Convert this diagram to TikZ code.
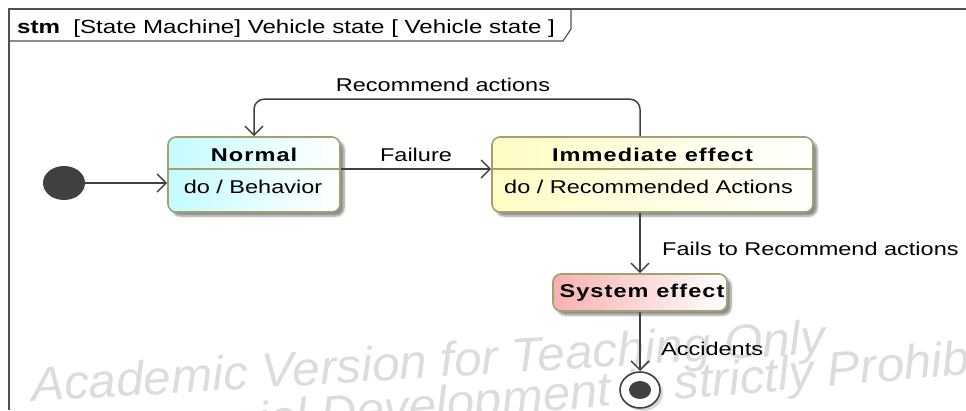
\documentclass[tikz,border=0pt]{standalone}
\usepackage{fontspec}
\setmainfont{Liberation Sans}[FakeStretch=1.27]
\newfontfamily\namefont{Liberation Sans}[FakeStretch=1.27, LetterSpace=6]
\newfontfamily\wmfont{Liberation Sans}[FakeStretch=1.03]
\usetikzlibrary{arrows.meta,shadows.blur,calc}

\definecolor{framegray}{HTML}{505050}
\definecolor{linegray}{HTML}{404040}
\definecolor{stateborder}{HTML}{A0A070}
\definecolor{normalfill}{HTML}{C4FCFF}
\definecolor{immfill}{HTML}{FFFCC4}
\definecolor{sysfill}{HTML}{F7B0B0}
\definecolor{wmgray}{HTML}{DCDCDC}
\definecolor{dotfill}{HTML}{404040}

\tikzset{
  txt/.style={font=\fontsize{18.5}{22}\selectfont, inner sep=0pt, text=black},
  bold/.style={txt, font=\namefont\fontsize{18.5}{22}\selectfont\bfseries},
  statebox/.style={draw=stateborder, line width=1.6pt, rounded corners=8pt,
    blur shadow={shadow xshift=4pt, shadow yshift=-4pt, shadow blur steps=6, shadow opacity=45}},
  divider/.style={draw=stateborder, line width=1.2pt},
  trans/.style={draw=linegray, line width=1.5pt,
    -{Straight Barb[length=9pt, width=18pt, line width=1.5pt]}},
  wm/.style={font=\wmfont\itshape\fontsize{48}{48}\selectfont, text=wmgray,
    inner sep=0pt},
}

\begin{document}
\begin{tikzpicture}[x=1pt, y=-1pt]
\useasboundingbox (0,0) rectangle (966,410);

% watermark lines, clipped at the page edge
\begin{scope}
  \clip (0,0) rectangle (966,410);
  \node[wm, anchor=base west, rotate=3.5] (wm1) at (32,402) {Academic Version for Teaching Only};
  \node[wm, anchor=base west, rotate=5] (wm2) at (46,455) {Commercial Development is strictly Prohibited};
\end{scope}

% diagram frame with its name tab
\draw[framegray, line width=1.8pt] (9,410) -- (9,9) -- (966,9);
\draw[framegray, line width=1.2pt] (9,41) -- (563,41) -- (571,29) -- (571,9);
\node[txt, anchor=base west, font=\fontsize{19}{22}\selectfont] (title) at (17,33)
  {\textbf{stm}\hspace{0.7em}[State Machine] Vehicle state [ Vehicle state ]};

% states
\node[statebox, left color=normalfill, right color=white,
  minimum width=172pt, minimum height=75pt] (normal) at (254,174.5) {};
\node[bold] (normalname) at (254,155) {Normal};
\node[txt] (normaldo) at (253,187) {do / Behavior};
\draw[divider] (normal.west |- 0,169) -- (normal.east |- 0,169);

\node[statebox, left color=immfill, right color=white,
  minimum width=321pt, minimum height=75pt] (imm) at (652.5,174.5) {};
\node[bold] (immname) at (652.5,155) {Immediate effect};
\node[txt] (immdo) at (648.5,187) {do / Recommended Actions};
\draw[divider] (imm.west |- 0,169) -- (imm.east |- 0,169);

\node[statebox, left color=sysfill, right color=white,
  minimum width=174pt, minimum height=37pt] (sys) at (640,292.5) {};
\node[bold] (sysname) at (642,292.5) {System effect};

% pseudo states
\fill[dotfill] (64,183) ellipse [x radius=21pt, y radius=17pt];
\coordinate (init) at (64,183);
\coordinate (initedge) at (85,183);

\fill[gray!45, opacity=0.7] (643,393) ellipse [x radius=20pt, y radius=18pt];
\draw[linegray, fill=white, line width=1.6pt] (640,390) ellipse [x radius=20pt, y radius=18pt];
\fill[dotfill] (640,390) ellipse [x radius=11pt, y radius=9pt];
\coordinate (final) at (640,390);
\coordinate (finaltop) at (640,371);

% transitions
\draw[trans] (initedge) -- (normal.west |- init);
\draw[trans] (normal.east |- 0,169) -- (imm.west |- 0,169)
  node[txt, midway, above=7pt] (failure) {Failure};
\draw[trans, rounded corners=10pt] (imm.north -| sys.north) -- ++(0,-37) -| (normal.north);
\node[txt] (recommend) at (443,85) {Recommend actions};
\draw[trans] (imm.south -| sys.north) -- (sys.north);
\node[txt, anchor=west] (fails) at (662,249) {Fails to Recommend actions};
\draw[trans] (sys.south) -- (finaltop);
\node[txt, anchor=west] (accidents) at (661,349) {Accidents};
\end{tikzpicture}
\end{document}
